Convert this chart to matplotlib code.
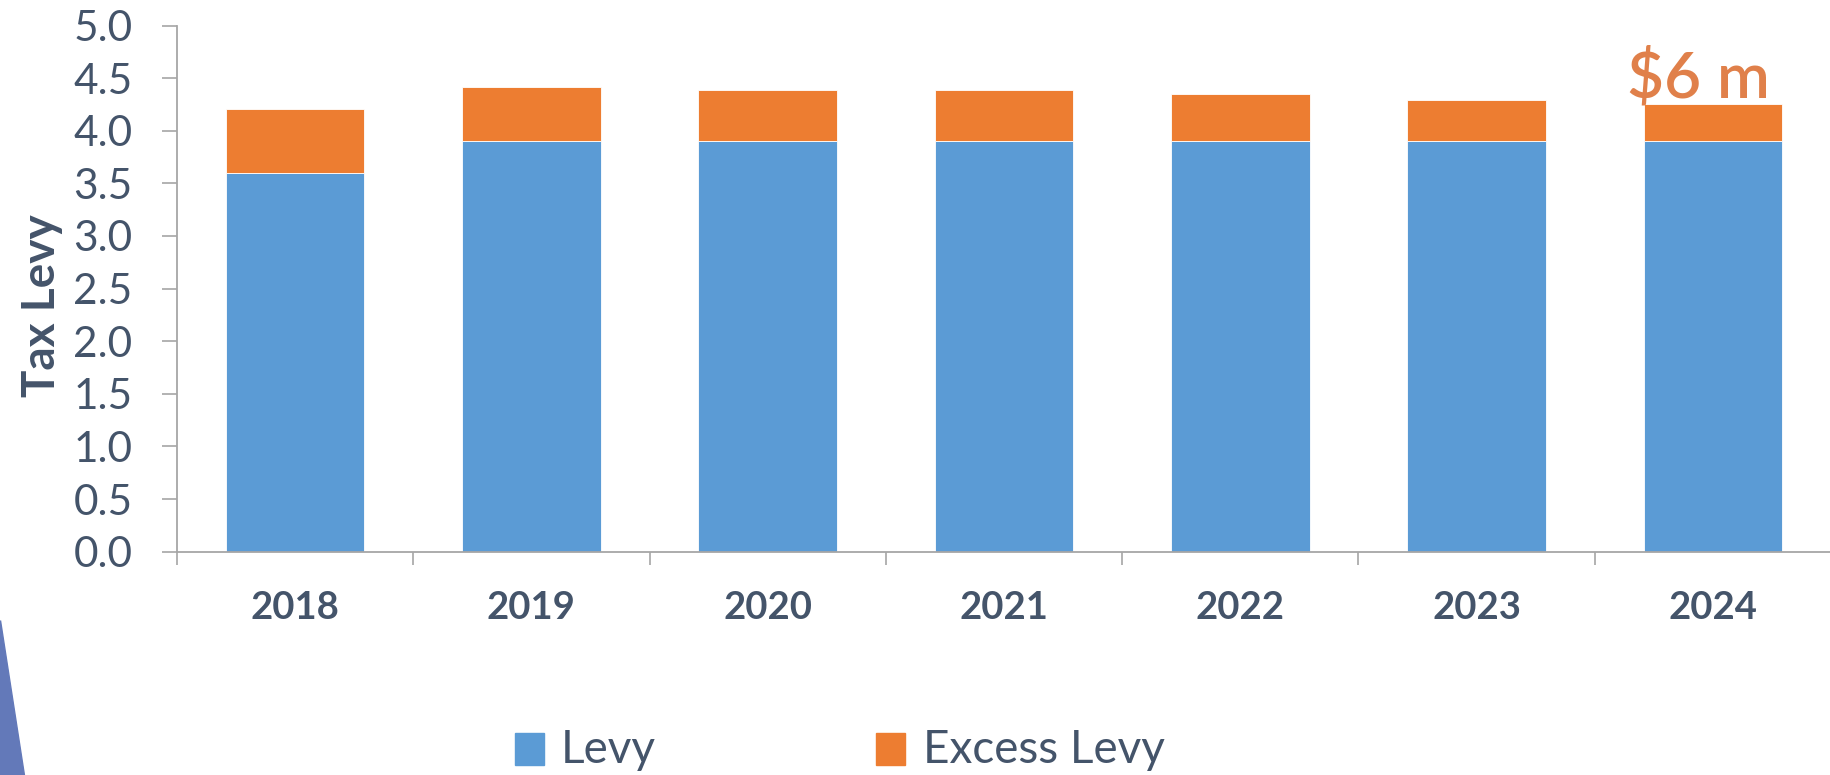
import matplotlib
matplotlib.use("Agg")
import matplotlib.pyplot as plt
from matplotlib.patches import Rectangle, Polygon

years = ["2018", "2019", "2020", "2021", "2022", "2023", "2024"]
levy = [3.60, 3.90, 3.90, 3.90, 3.90, 3.90, 3.90]
excess = [0.61, 0.52, 0.49, 0.49, 0.45, 0.39, 0.35]
yticks = [0.0, 0.5, 1.0, 1.5, 2.0, 2.5, 3.0, 3.5, 4.0, 4.5, 5.0]
series_names = ["Levy", "Excess Levy"]
annotation = "$6 m"

BLUE = "#5B9BD5"
ORANGE = "#ED7D31"
TEXT = "#44546A"
GRID = "#A6A6A6"
FONT = "Lato"

W, H = 1831, 775
fig = plt.figure(figsize=(W / 100, H / 100), dpi=100)
ax = fig.add_axes([177 / W, 1 - 551.7 / H, 1 - 177 / W, (551.7 - 25.5) / H])

x = list(range(len(years)))
ax.bar(x, levy, width=0.587, color=BLUE, edgecolor="white", linewidth=0.6)
ax.bar(x, excess, bottom=levy, width=0.587, color=ORANGE, edgecolor="white", linewidth=0.6)

ax.set_xlim(-0.5, -0.5 + (W - 177) / 238.4)
ax.set_ylim(0, 5)

for s in ["top", "right"]:
    ax.spines[s].set_visible(False)
for s in ["left", "bottom"]:
    ax.spines[s].set_color(GRID)
    ax.spines[s].set_linewidth(1.3)

ax.set_yticks(yticks)
ax.set_yticklabels([f"{v:.1f}" for v in yticks], fontsize=30.5, color=TEXT, family=FONT)
ax.tick_params(axis="y", direction="out", length=11, width=1.2, color=GRID, pad=21)

ax.set_xticks(x)
ax.set_xticklabels(years, fontsize=27.5, color=TEXT, family=FONT, fontweight="bold")
ax.tick_params(axis="x", which="major", length=0, pad=28)
ax.set_xticks([i - 0.5 for i in range(len(years) + 1)], minor=True)
ax.tick_params(axis="x", which="minor", direction="out", length=9.5, width=1.2, color=GRID)

# annotation above last bar
ax.text(len(years) - 1 - 0.06, 4.32, annotation, fontsize=46, color="#E0804A",
        family=FONT, fontweight="semibold", ha="center", va="baseline")

# y-axis title
fig.text(42 / W, 1 - 306 / H, "Tax Levy", rotation=90, fontsize=33, fontweight="bold",
         color=TEXT, family=FONT, ha="center", va="center")

# legend
for (sx, tx), name, col in zip([(515, 561), (876, 923)], series_names, [BLUE, ORANGE]):
    fig.patches.append(Rectangle((sx / W, 1 - 765 / H), 29 / W, 32 / H,
                                 transform=fig.transFigure, color=col))
    fig.text(tx / W, 1 - 763 / H, name, fontsize=33, color=TEXT, family=FONT,
             ha="left", va="baseline")

# decorative wedge bottom-left
fig.patches.append(Polygon([(0, 1 - 620 / H), (0, 0), (24 / W, 0)], closed=True,
                           transform=fig.transFigure, color="#6379B9"))

fig.savefig("out.png", dpi=100)
